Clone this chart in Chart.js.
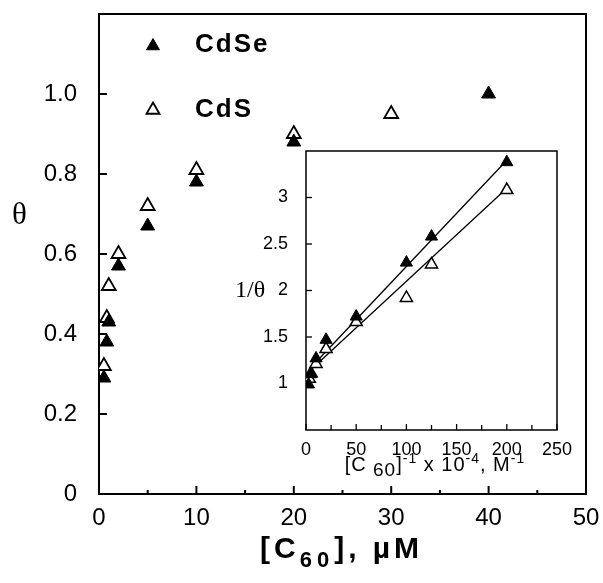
<!DOCTYPE html>
<html>
<head>
<meta charset="utf-8">
<script src="https://cdn.jsdelivr.net/npm/chart.js@4.4.0/dist/chart.umd.min.js"></script>
<style>
  html, body { margin: 0; padding: 0; background: #fff; }
  #wrap { position: relative; width: 603px; height: 583px; overflow: hidden; font-family: "Liberation Sans", Arial, sans-serif; color: #000; }
  #main { position: absolute; left: 0; top: 0; }
  #inset { position: absolute; left: 230px; top: 140px; }
  .lbl { position: absolute; white-space: nowrap; line-height: 1; }
  .serif { font-family: "Liberation Serif", "DejaVu Serif", serif; }
  #theta { left: 12px; top: 198px; font-size: 31px; }
  #xtitle { left: 260px; top: 533px; font-size: 30px; font-weight: bold; letter-spacing: 4px; }
  #xtitle sub { font-size: 22px; letter-spacing: 5px; vertical-align: -9px; }
  #invtheta { left: 235px; top: 277px; font-size: 24px; }
  #insetx { left: 315px; top: 451px; width: 240px; text-align: center; font-size: 20px; letter-spacing: 1px; }
  #insetx sub { font-size: 19px; vertical-align: -5px; }
  #insetx sup { font-size: 14px; vertical-align: 8px; }
  .key { font-size: 26px; font-weight: bold; letter-spacing: 2px; left: 195px; }
  #keySe { top: 30px; }
  #keyS { top: 95px; }
</style>
</head>
<body>
<div id="wrap">
  <canvas id="main" width="603" height="583"></canvas>
  <canvas id="inset" width="355" height="350"></canvas>
  <div class="lbl serif" id="theta">θ</div>
  <div class="lbl" id="xtitle">[C<sub>60</sub>], µM</div>
  <div class="lbl serif" id="invtheta">1/θ</div>
  <div class="lbl" id="insetx">[C<sub> 60</sub>]<sup>-1</sup> x 10<sup>-4</sup>, M<sup>-1</sup></div>
  <div class="lbl key" id="keySe">CdSe</div>
  <div class="lbl key" id="keyS">CdS</div>
</div>
<script>
const cdseConc  = [0.5, 0.8, 1.0, 2, 5, 10, 20, 40];
const cdseTheta = [0.29, 0.38, 0.43, 0.57, 0.67, 0.78, 0.88, 1.00];
const cdsConc   = [0.5, 0.8, 1.0, 2, 5, 10, 20, 30];
const cdsTheta  = [0.32, 0.44, 0.52, 0.60, 0.72, 0.81, 0.90, 0.95];

// Recuadro: 1/[C60] x 10^-4 (M^-1) frente a 1/θ
const cdseInvConc  = [2.5, 5, 10, 20, 50, 100, 125, 200];
const cdseInvTheta = [0.99, 1.10, 1.27, 1.47, 1.72, 2.30, 2.58, 3.38];
const cdsInvConc   = [3.3, 5, 10, 20, 50, 100, 125, 200];
const cdsInvTheta  = [1.05, 1.11, 1.21, 1.37, 1.66, 1.92, 2.28, 3.08];

// Rectas de ajuste (extremos)
const cdseFitX = [3, 200];
const cdseFitY = [1.15, 3.40];
const cdsFitX  = [3, 200];
const cdsFitY  = [1.13, 3.10];

const mainXTicks = [0, 5, 10, 15, 20, 25, 30, 35, 40, 45, 50];
const mainYTicks = [0, 0.2, 0.4, 0.6, 0.8, 1.0];
const insetXTicks = [0, 25, 50, 75, 100, 125, 150, 175, 200, 225, 250];
const insetYTicks = [1, 1.5, 2, 2.5, 3];

const pts = (xs, ys) => xs.map((x, i) => ({ x, y: ys[i] }));
const FONT = '"Liberation Sans", Arial, sans-serif';

// El área de dibujo la fija el padding del layout, sin márgenes extra de las etiquetas
const fixX = h => s => { s.height = h; s.paddingLeft = 0; s.paddingRight = 0; };
const fixY = w => s => { s.width = w; s.paddingTop = 0; s.paddingBottom = 0; };

// Marco completo y marcas hacia dentro
const framePlugin = {
  id: 'frame',
  beforeDatasetsDraw(chart, args, opts) {
    const { ctx, chartArea: a, scales } = chart;
    ctx.save();
    ctx.strokeStyle = '#000';
    ctx.lineWidth = opts.lineWidth;
    ctx.strokeRect(a.left, a.top, a.right - a.left, a.bottom - a.top);
    ctx.lineWidth = opts.tickWidth;
    opts.xTicks.forEach(t => {
      const px = scales.x.getPixelForValue(t);
      const len = opts.xMajor(t) ? opts.major : opts.minor;
      ctx.beginPath(); ctx.moveTo(px, a.bottom); ctx.lineTo(px, a.bottom - len); ctx.stroke();
    });
    opts.yTicks.forEach(t => {
      const py = scales.y.getPixelForValue(t);
      ctx.beginPath(); ctx.moveTo(a.left, py); ctx.lineTo(a.left + opts.major, py); ctx.stroke();
    });
    ctx.restore();
  },
  beforeDraw(chart, args, opts) {
    if (!opts.fill) return;
    const { ctx, chartArea: a } = chart;
    ctx.save();
    ctx.fillStyle = opts.fill;
    ctx.fillRect(a.left, a.top, a.right - a.left, a.bottom - a.top);
    ctx.restore();
  }
};

// Símbolos de la leyenda
const keyPlugin = {
  id: 'keys',
  afterDraw(chart, args, opts) {
    const ctx = chart.ctx;
    opts.items.forEach(it => {
      ctx.save();
      ctx.fillStyle = it.fill;
      ctx.strokeStyle = '#000';
      ctx.lineWidth = it.borderWidth;
      Chart.helpers.drawPoint(ctx, { pointStyle: 'triangle', radius: 7.5, rotation: 0, borderWidth: it.borderWidth }, it.x, it.y);
      ctx.restore();
    });
  }
};

new Chart(document.getElementById('main'), {
  type: 'scatter',
  data: {
    datasets: [
      { label: 'CdSe', data: pts(cdseConc, cdseTheta), pointStyle: 'triangle', pointRadius: 8,
        backgroundColor: '#000', borderColor: '#000', borderWidth: 1, order: 1 },
      { label: 'CdS', data: pts(cdsConc, cdsTheta), pointStyle: 'triangle', pointRadius: 8,
        backgroundColor: '#fff', borderColor: '#000', borderWidth: 1.8, order: 2 },
    ],
  },
  options: {
    responsive: false,
    animation: false,
    layout: { padding: { top: 14, right: 17, left: 0, bottom: 0 } },
    plugins: {
      legend: { display: false },
      tooltip: { enabled: false },
      frame: { lineWidth: 2, tickWidth: 2, major: 8, minor: 4,
        xTicks: mainXTicks, yTicks: mainYTicks, xMajor: t => t % 10 === 0 },
      keys: { items: [
        { x: 153, y: 46, fill: '#000', borderWidth: 1 },
        { x: 153, y: 110, fill: '#fff', borderWidth: 1.8 },
      ] },
    },
    scales: {
      x: {
        type: 'linear', min: 0, max: 50,
        ticks: { stepSize: 10, padding: 2, color: '#000', maxRotation: 0, font: { family: FONT, size: 24 } },
        grid: { display: false }, border: { display: false },
        afterFit: fixX(89),
      },
      y: {
        type: 'linear', min: 0, max: 1.2,
        ticks: { stepSize: 0.2, padding: 14, color: '#000', font: { family: FONT, size: 24 },
          callback: v => v > 1.05 ? '' : (v === 0 ? '0' : v.toFixed(1)) },
        grid: { display: false }, border: { display: false },
        afterFit: fixY(99),
      },
    },
  },
  plugins: [framePlugin, keyPlugin],
});

new Chart(document.getElementById('inset'), {
  type: 'scatter',
  data: {
    datasets: [
      { label: 'CdSe', data: pts(cdseInvConc, cdseInvTheta), pointStyle: 'triangle', pointRadius: 7,
        backgroundColor: '#000', borderColor: '#000', borderWidth: 1, order: 1 },
      { label: 'CdS', data: pts(cdsInvConc, cdsInvTheta), pointStyle: 'triangle', pointRadius: 7,
        backgroundColor: '#fff', borderColor: '#000', borderWidth: 1.5, order: 2 },
      { type: 'line', data: pts(cdseFitX, cdseFitY), borderColor: '#000', borderWidth: 1.3,
        pointRadius: 0, fill: false, order: 3 },
      { type: 'line', data: pts(cdsFitX, cdsFitY), borderColor: '#000', borderWidth: 1.3,
        pointRadius: 0, fill: false, order: 3 },
    ],
  },
  options: {
    responsive: false,
    animation: false,
    layout: { padding: { top: 11, right: 28, left: 0, bottom: 0 } },
    plugins: {
      legend: { display: false },
      tooltip: { enabled: false },
      frame: { fill: '#fff', lineWidth: 1.5, tickWidth: 1.3, major: 6, minor: 5,
        xTicks: insetXTicks, yTicks: insetYTicks, xMajor: t => t % 50 === 0 },
    },
    scales: {
      x: {
        type: 'linear', min: 0, max: 250,
        ticks: { stepSize: 50, padding: 1, color: '#000', maxRotation: 0, font: { family: FONT, size: 18 } },
        grid: { display: false }, border: { display: false },
        afterFit: fixX(60),
      },
      y: {
        type: 'linear', min: 0.5, max: 3.5,
        ticks: { stepSize: 0.5, padding: 10, color: '#000', font: { family: FONT, size: 18 },
          callback: v => (v < 0.9 || v > 3.1) ? '' : String(v) },
        grid: { display: false }, border: { display: false },
        afterFit: fixY(76),
      },
    },
  },
  plugins: [framePlugin],
});
</script>
</body>
</html>
